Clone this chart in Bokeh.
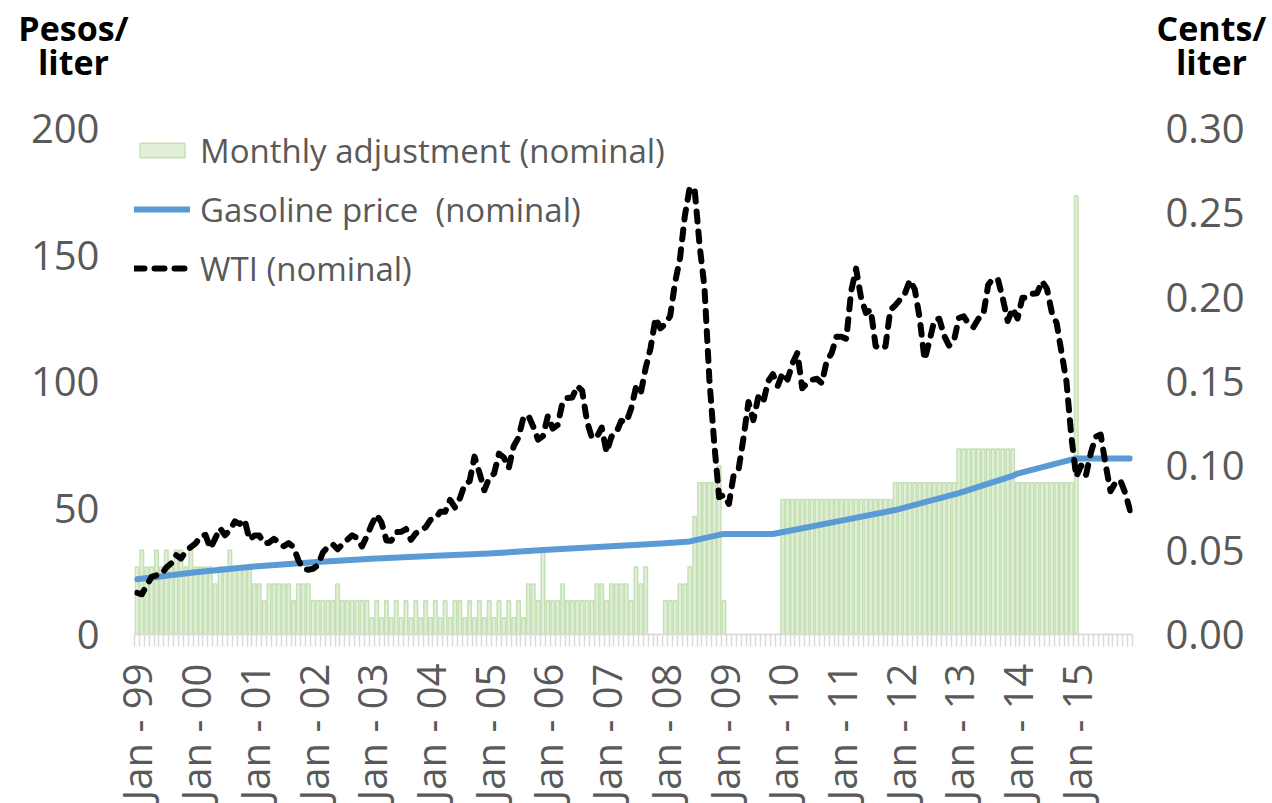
import numpy as np
from bokeh.plotting import figure
from bokeh.layouts import column
from bokeh.models import (Range1d, LinearAxis, FixedTicker, NumeralTickFormatter,
                          Legend, LegendItem, Label)
from bokeh.embed import file_html
from bokeh.resources import INLINE

# ---------------- data ----------------
months = list(range(204))  # Jan 1999 ... Dec 2015
tick_months = [0, 12, 24, 36, 48, 60, 72, 84, 96, 108, 120, 132, 144, 156, 168, 180, 192]
tick_labels = ["Jan - 99", "Jan - 00", "Jan - 01", "Jan - 02", "Jan - 03", "Jan - 04",
               "Jan - 05", "Jan - 06", "Jan - 07", "Jan - 08", "Jan - 09", "Jan - 10",
               "Jan - 11", "Jan - 12", "Jan - 13", "Jan - 14", "Jan - 15"]

# Monthly adjustment (right axis)
adjustment = [
    0.04, 0.05, 0.04, 0.04, 0.05, 0.04, 0.05, 0.04, 0.05, 0.05, 0.04, 0.05,   # 1999
    0.04, 0.04, 0.04, 0.04, 0.03, 0.04, 0.04, 0.05, 0.04, 0.04, 0.04, 0.04,   # 2000
    0.03, 0.03, 0.02, 0.03, 0.03, 0.03, 0.03, 0.03, 0.02, 0.03, 0.03, 0.03,   # 2001
    0.02, 0.02, 0.02, 0.02, 0.02, 0.03, 0.02, 0.02, 0.02, 0.02, 0.02, 0.02,   # 2002
    0.01, 0.02, 0.01, 0.02, 0.01, 0.02, 0.01, 0.02, 0.01, 0.02, 0.01, 0.02,   # 2003
    0.01, 0.02, 0.01, 0.02, 0.01, 0.02, 0.02, 0.01, 0.02, 0.01, 0.02, 0.01,   # 2004
    0.02, 0.01, 0.02, 0.01, 0.02, 0.01, 0.02, 0.01, 0.03, 0.03, 0.02, 0.05,   # 2005
    0.02, 0.02, 0.02, 0.03, 0.02, 0.02, 0.02, 0.02, 0.02, 0.02, 0.03, 0.03,   # 2006
    0.02, 0.03, 0.03, 0.03, 0.03, 0.02, 0.04, 0.03, 0.04, 0.00, 0.00, 0.00,   # 2007
    0.02, 0.02, 0.02, 0.03, 0.03, 0.04, 0.07, 0.09, 0.09, 0.09, 0.09, 0.10,   # 2008
    0.02, 0.00, 0.00, 0.00, 0.00, 0.00, 0.00, 0.00, 0.00, 0.00, 0.00, 0.00,   # 2009
    0.08, 0.08, 0.08, 0.08, 0.08, 0.08, 0.08, 0.08, 0.08, 0.08, 0.08, 0.08,   # 2010
    0.08, 0.08, 0.08, 0.08, 0.08, 0.08, 0.08, 0.08, 0.08, 0.08, 0.08, 0.09,   # 2011
    0.09, 0.09, 0.09, 0.09, 0.09, 0.09, 0.09, 0.09, 0.09, 0.09, 0.09, 0.09,   # 2012
    0.11, 0.11, 0.11, 0.11, 0.11, 0.11, 0.11, 0.11, 0.11, 0.11, 0.11, 0.11,   # 2013
    0.09, 0.09, 0.09, 0.09, 0.09, 0.09, 0.09, 0.09, 0.09, 0.09, 0.09, 0.09,   # 2014
    0.26, 0.00, 0.00, 0.00, 0.00, 0.00, 0.00, 0.00, 0.00, 0.00, 0.00, 0.00,   # 2015
]

# Gasoline price (left axis), read at selected months
gas_month = [0, 12, 24, 36, 48, 60, 72, 84, 96, 108, 113, 119, 120, 130, 144, 155, 168, 179, 180, 192, 203]
gas_price = [21.8, 24.6, 26.9, 28.6, 29.9, 31.0, 32.0, 33.5, 34.8, 36.1, 36.8, 39.4, 39.7, 39.7,
             45.0, 49.2, 55.9, 62.7, 63.6, 69.6, 69.6]

# WTI (left axis)
wti = [
    16.5, 15.9, 19.4, 22.8, 23.4, 23.7, 26.5, 28.1, 31.4, 30.0, 33.0, 34.5,          # 1999
    36.0, 38.8, 39.4, 34.0, 38.0, 42.0, 39.2, 41.3, 44.7, 43.7, 45.4, 37.5,          # 2000
    39.1, 39.1, 36.0, 36.3, 37.8, 36.4, 34.9, 36.1, 34.6, 29.3, 25.9, 25.6,          # 2001
    26.0, 27.4, 32.4, 34.6, 35.7, 33.7, 35.6, 37.5, 39.2, 38.1, 34.8, 38.9,          # 2002
    43.5, 47.3, 44.2, 37.2, 37.1, 40.5, 40.6, 41.7, 37.4, 40.0, 41.1, 42.4,          # 2003
    45.3, 45.8, 48.5, 48.5, 53.2, 50.2, 53.8, 59.3, 60.6, 70.3, 64.0, 57.0,          # 2004
    61.8, 63.6, 71.5, 69.9, 65.8, 74.4, 77.9, 85.8, 86.6, 82.2, 77.0, 78.4,          # 2005
    86.4, 81.4, 82.8, 91.7, 93.5, 93.7, 98.2, 96.4, 84.2, 77.7, 78.0, 81.8,          # 2006
    72.0, 78.2, 79.8, 84.5, 83.8, 89.1, 97.8, 95.5, 105.5, 113.3, 125.1, 121.0,      # 2007
    122.7, 125.9, 139.2, 148.6, 165.5, 176.7, 176.0, 154.0, 137.4, 101.1, 75.6, 54.3,  # 2008
    55.1, 51.6, 63.3, 65.5, 77.9, 91.9, 84.7, 93.8, 91.6, 100.0, 102.9, 98.3,        # 2009
    103.4, 100.8, 107.2, 111.3, 97.3, 99.4, 100.7, 101.1, 99.3, 108.1, 111.2, 117.7,  # 2010
    117.7, 116.9, 135.8, 144.6, 133.2, 127.1, 128.4, 114.0, 112.9, 113.9, 128.3, 130.1,  # 2011
    132.4, 134.9, 140.1, 136.4, 125.0, 108.6, 116.0, 124.3, 124.8, 118.1, 114.2, 116.0,  # 2012
    125.1, 125.8, 122.7, 121.5, 124.8, 126.4, 138.2, 140.7, 140.3, 132.7, 123.9, 128.9,  # 2013
    124.9, 133.1, 133.1, 134.7, 134.9, 139.6, 136.7, 127.4, 123.0, 111.4, 100.0, 78.3,   # 2014
    62.3, 66.8, 63.1, 71.9, 78.2, 79.0, 67.2, 56.6, 60.0, 61.0, 56.0, 49.1,          # 2015
]

left_ticks = [0, 50, 100, 150, 200]
right_ticks = [0.0, 0.05, 0.10, 0.15, 0.20, 0.25, 0.30]
left_unit = ["Pesos/", "liter"]
right_unit = ["Cents/", "liter"]

FONT = "Open Sans"
GRAY = "#595959"

# ---------------- header strip with the unit labels ----------------
hdr = figure(width=1272, height=100, x_range=Range1d(0, 1272), y_range=Range1d(0, 100),
             output_backend="svg", toolbar_location=None, min_border=0,
             x_axis_location=None, y_axis_location=None)
hdr.frame_align = False
hdr.outline_line_color = None
hdr.grid.visible = False
for lines, cx in [(left_unit, 73), (right_unit, 1211)]:
    for txt, by in zip(lines, [73, 39]):
        hdr.add_layout(Label(x=cx, y=by, text=txt, text_align="center",
                             text_baseline="alphabetic", text_font=FONT,
                             text_font_style="bold", text_font_size="34px",
                             text_color="black"))

# ---------------- main chart ----------------
p = figure(width=1272, height=703, output_backend="svg", toolbar_location=None,
           x_range=Range1d(-0.5, 203.5), y_range=Range1d(0, 200),
           min_border_left=134, min_border_right=140, min_border_top=28,
           min_border_bottom=167)
p.frame_align = False
p.outline_line_color = None
p.xgrid.visible = False
p.ygrid.visible = False

p.extra_y_ranges = {"right": Range1d(0, 0.30)}

bars = p.vbar(x=months, top=adjustment, width=0.72, bottom=0, y_range_name="right",
              fill_color="#e2f0d9", line_color="#c5e0b4", line_width=1.5)
gas = p.line(x=gas_month, y=gas_price, line_color="#5b9bd5", line_width=6,
             line_join="round", line_cap="round")
wti_r = p.line(x=months, y=wti, line_color="black", line_width=6, line_dash="10 10",
               line_cap="round", line_join="round")

# x axis
xa = p.xaxis[0]
xa.ticker = FixedTicker(ticks=tick_months, minor_ticks=[m - 0.5 for m in months + [204]])
xa.major_label_overrides = {m: lab for m, lab in zip(tick_months, tick_labels)}
xa.major_label_orientation = np.pi / 2
xa.major_tick_out = 0
xa.major_tick_in = 0
xa.major_tick_line_color = None
xa.minor_tick_out = 12
xa.minor_tick_in = 0
xa.minor_tick_line_color = "#d9d9d9"
xa.minor_tick_line_width = 1.5
xa.axis_line_color = "#d9d9d9"
xa.axis_line_width = 1.5
xa.major_label_standoff = 17
xa.major_label_text_font = FONT
xa.major_label_text_font_size = "40px"
xa.major_label_text_color = GRAY

# left axis
ya = p.yaxis[0]
ya.ticker = FixedTicker(ticks=left_ticks)
ya.major_tick_out = 0
ya.major_tick_in = 0
ya.minor_tick_line_color = None
ya.major_tick_line_color = None
ya.axis_line_color = None
ya.major_label_standoff = 35
ya.major_label_text_font = FONT
ya.major_label_text_font_size = "40px"
ya.major_label_text_color = GRAY

# right axis
ra = LinearAxis(y_range_name="right", ticker=FixedTicker(ticks=right_ticks),
                formatter=NumeralTickFormatter(format="0.00"))
ra.major_tick_out = 0
ra.major_tick_in = 0
ra.minor_tick_line_color = None
ra.major_tick_line_color = None
ra.axis_line_color = None
ra.major_label_standoff = 33
ra.major_label_text_font = FONT
ra.major_label_text_font_size = "40px"
ra.major_label_text_color = GRAY
p.add_layout(ra, "right")

legend = Legend(items=[LegendItem(label="Monthly adjustment (nominal)", renderers=[bars]),
                       LegendItem(label="Gasoline price  (nominal)", renderers=[gas]),
                       LegendItem(label="WTI (nominal)", renderers=[wti_r])],
                location=(0, 342), glyph_width=56, glyph_height=18, label_standoff=10,
                label_text_font=FONT, label_text_font_size="33px", label_text_color=GRAY,
                label_height=48, spacing=11, padding=0, margin=0,
                border_line_color=None, background_fill_alpha=0)
p.add_layout(legend)

layout = column(hdr, p, spacing=0)
open("out.html", "w").write(file_html(layout, INLINE))
